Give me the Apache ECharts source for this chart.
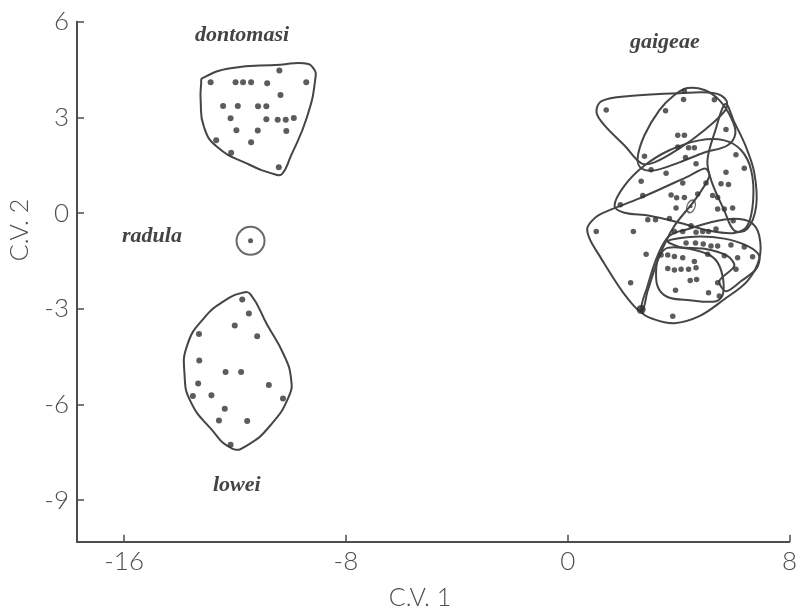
<!DOCTYPE html>
<html>
<head>
<meta charset="utf-8">
<script src="https://cdn.jsdelivr.net/npm/echarts@6/dist/echarts.min.js"></script>
<style>
html,body{margin:0;padding:0;background:#fff;}
#chart{width:800px;height:614px;}
</style>
</head>
<body>
<div id="chart"></div>
<script>
// ---------- data ----------
const xTicks = [-16, -8, 0, 8];
const yTicks = [-9, -6, -3, 0, 3, 6];

const dontomasiPts = [
  [-10.40, 4.47], [-12.88, 4.10], [-11.98, 4.10], [-11.71, 4.10], [-11.42, 4.10],
  [-10.84, 4.07], [-9.43, 4.10], [-10.36, 3.70], [-12.43, 3.36], [-11.90, 3.36],
  [-11.17, 3.35], [-10.87, 3.35], [-12.16, 2.97], [-10.87, 2.94], [-10.46, 2.93],
  [-10.17, 2.93], [-9.88, 2.98], [-11.95, 2.60], [-11.18, 2.59], [-10.15, 2.57],
  [-12.68, 2.28], [-11.42, 2.22], [-12.14, 1.89], [-10.42, 1.44]
];
const loweiPts = [
  [-11.74, -2.71], [-11.50, -3.15], [-12.01, -3.52], [-13.30, -3.79], [-11.20, -3.86],
  [-13.29, -4.62], [-12.34, -4.98], [-11.78, -4.98], [-13.33, -5.34], [-10.78, -5.39],
  [-13.52, -5.73], [-12.85, -5.71], [-10.27, -5.81], [-12.37, -6.13], [-12.58, -6.50],
  [-11.56, -6.52], [-12.16, -7.26]
];
const radulaPts = [[-11.44, -0.87]];
const gaigeaePts = [
  [1.39, 3.23], [4.21, 3.83], [4.18, 3.56], [5.29, 3.55], [3.53, 3.21], [5.71, 2.62],
  [3.97, 2.44], [4.21, 2.44], [3.97, 2.07], [4.36, 2.05], [4.57, 2.05], [2.77, 1.78],
  [4.25, 1.74], [6.07, 1.83], [4.63, 1.55], [3.01, 1.36], [3.55, 1.25], [6.37, 1.41],
  [5.71, 1.28], [2.65, 1.00], [4.15, 0.94], [4.99, 0.94], [5.53, 0.92], [5.80, 0.90],
  [2.71, 0.55], [3.73, 0.57], [3.93, 0.48], [4.21, 0.49], [4.69, 0.60], [5.23, 0.55],
  [5.41, 0.49], [1.90, 0.26], [3.91, 0.16], [5.41, 0.13], [5.65, 0.13],
  [5.95, 0.16], [2.89, -0.21], [3.17, -0.21], [3.67, -0.17], [5.97, -0.24], [1.03, -0.58],
  [2.37, -0.58], [3.85, -0.58], [4.15, -0.58], [4.45, -0.40], [4.63, -0.60], [4.87, -0.58],
  [5.08, -0.58], [5.35, -0.50], [4.27, -0.94], [4.61, -0.94], [4.89, -0.97], [5.17, -1.03],
  [5.41, -1.03], [5.89, -1.00], [6.37, -1.06], [2.83, -1.29], [3.37, -1.31], [3.61, -1.31],
  [3.85, -1.36], [4.15, -1.40], [5.05, -1.29], [5.65, -1.34], [6.13, -1.40], [6.67, -1.37],
  [4.57, -1.52], [3.61, -1.74], [3.85, -1.78], [4.09, -1.76], [4.36, -1.76], [4.63, -1.71],
  [6.07, -1.76], [4.42, -2.11], [4.65, -2.08], [2.27, -2.18], [5.41, -2.18], [3.89, -2.42],
  [5.08, -2.50], [5.47, -2.60], [3.79, -3.23]
];
const gaigeaeBigPts = [[2.65, -3.02]];
const gaigeaeSinglePop = [[4.45, 0.21]];

// hull outlines (data units)
const hullDontomasi = [
  [-13.18, 4.23], [-12.16, 4.54], [-10.36, 4.65], [-9.52, 4.70], [-9.17, 4.54], [-9.10, 4.23],
  [-9.40, 3.02], [-10.00, 1.76], [-10.30, 1.23], [-10.54, 1.21], [-11.56, 1.55],
  [-12.64, 2.07], [-13.12, 2.70], [-13.24, 3.54], [-13.22, 4.07]
];
const hullLowei = [
  [-11.74, -2.50], [-11.44, -2.55], [-10.84, -3.50], [-10.24, -4.44], [-9.98, -5.18],
  [-10.06, -5.75], [-10.72, -6.65], [-11.56, -7.28], [-12.10, -7.38], [-12.88, -6.75],
  [-13.60, -5.91], [-13.82, -5.07], [-13.72, -4.13], [-13.12, -3.29], [-12.40, -2.76]
];
const hullG1 = [
  [1.04, 3.16], [1.22, 3.51], [2.23, 3.67], [4.03, 3.76], [5.29, 3.76], [5.72, 3.54],
  [5.69, 3.23], [4.93, 2.60], [4.03, 2.03], [3.13, 1.59], [2.66, 1.56], [2.05, 2.12], [1.33, 2.75]
];
const hullG2 = [
  [2.52, 1.71], [2.77, 2.44], [3.31, 3.23], [3.85, 3.70], [4.32, 3.92], [4.93, 3.86],
  [5.47, 3.54], [5.90, 2.98], [6.05, 2.50], [5.76, 2.12], [4.93, 1.90], [4.03, 1.59],
  [3.13, 1.34], [2.66, 1.40]
];
const hullG3 = [
  [1.69, 0.23], [2.05, 0.86], [2.77, 1.49], [3.67, 1.97], [4.75, 2.28], [5.65, 2.28],
  [6.26, 1.97], [6.62, 1.34], [6.69, 0.39], [6.48, -0.40], [6.01, -0.62], [5.11, -0.55],
  [4.03, -0.30], [2.95, -0.08], [2.05, 0.01]
];
const hullG4 = [
  [0.72, -0.43], [1.15, -0.05], [2.59, 0.46], [4.39, 1.17], [4.96, 1.40], [5.11, 1.15],
  [4.57, 0.39], [3.85, -0.40], [3.31, -1.34], [2.88, -2.45], [2.66, -3.08], [2.05, -2.55],
  [1.15, -1.34], [0.79, -0.80]
];
const hullG5 = [
  [2.66, -3.08], [3.13, -3.33], [3.85, -3.45], [4.75, -3.23], [5.65, -2.70], [6.48, -2.13],
  [6.91, -1.44], [6.91, -0.71], [6.62, -0.30], [6.01, -0.18], [5.11, -0.30], [4.39, -0.49],
  [3.67, -0.71], [3.24, -1.34], [2.88, -2.29]
];
const hullG6 = [
  [3.31, -1.34], [3.60, -1.09], [4.39, -1.12], [5.22, -1.37], [5.54, -1.81], [5.61, -2.51],
  [5.36, -2.76], [4.39, -2.73], [3.60, -2.63], [3.24, -2.29], [3.20, -1.66]
];
const hullG7 = [
  [5.69, 3.42], [6.01, 2.85], [6.41, 2.12], [6.73, 1.27], [6.80, 0.23], [6.48, -0.49],
  [6.01, -0.55], [5.65, 0.08], [5.18, 1.02], [5.04, 1.65], [5.33, 2.60]
];
const hullG8 = [
  [3.60, -0.87], [4.57, -0.74], [5.65, -0.80], [6.48, -1.03], [6.91, -1.34], [6.80, -1.75],
  [6.26, -2.13], [5.72, -2.45], [5.47, -2.13], [6.01, -1.66], [5.76, -1.34], [4.93, -1.12],
  [4.03, -1.06]
];
const hulls = [hullDontomasi, hullLowei, hullG1, hullG2, hullG3, hullG4, hullG5, hullG6, hullG7, hullG8];
const hullSmooth = [0.5, 0.5, 0.35, 0.35, 0.35, 0.3, 0.35, 0.35, 0.35, 0.3];

const speciesLabels = ['dontomasi', 'radula', 'lowei', 'gaigeae'];

// ---------- chart ----------
const ink = '#333';
const axisInk = '#4d4d4d';
const tickFont = { fontFamily: 'Lato, "DejaVu Sans", sans-serif', fontWeight: 300, fontSize: 26, color: axisInk };
const labelFont = { fontFamily: '"Liberation Serif", "DejaVu Serif", serif', fontStyle: 'italic', fontWeight: 'bold', fontSize: 22, fill: '#444' };

const chart = echarts.init(document.getElementById('chart'), null, { renderer: 'canvas' });
chart.setOption({
  animation: false,
  backgroundColor: '#fff',
  grid: { left: 77, right: 10, top: 21.7, bottom: 72.3, containLabel: false },
  xAxis: {
    type: 'value', min: -17.7, max: 8,
    splitLine: { show: false },
    axisLine: { onZero: false, lineStyle: { color: axisInk, width: 2 } },
    axisTick: { inside: true, length: 7, customValues: xTicks, lineStyle: { color: axisInk, width: 1.5 } },
    axisLabel: Object.assign({ customValues: xTicks, margin: 7, formatter: v => String(v) }, tickFont)
  },
  yAxis: {
    type: 'value', min: -10.3, max: 6,
    splitLine: { show: false },
    axisLine: { onZero: false, lineStyle: { color: axisInk, width: 2 } },
    axisTick: { inside: true, length: 7, customValues: yTicks, lineStyle: { color: axisInk, width: 1.5 } },
    axisLabel: Object.assign({ customValues: yTicks, margin: 8, formatter: v => String(v) }, tickFont)
  },
  graphic: [
    { type: 'text', left: 195, top: 24, style: Object.assign({ text: speciesLabels[0] }, labelFont) },
    { type: 'text', left: 122, top: 225, style: Object.assign({ text: speciesLabels[1] }, labelFont) },
    { type: 'text', left: 213, top: 474, style: Object.assign({ text: speciesLabels[2] }, labelFont) },
    { type: 'text', left: 630, top: 31, style: Object.assign({ text: speciesLabels[3] }, labelFont) },
    { type: 'text', x: 420, y: 598, style: { text: 'C.V. 1', align: 'center', verticalAlign: 'middle', fontFamily: tickFont.fontFamily, fontWeight: 300, fontSize: 25, fill: axisInk } },
    { type: 'text', x: 20, y: 230, rotation: Math.PI / 2, style: { text: 'C.V. 2', align: 'center', verticalAlign: 'middle', fontFamily: tickFont.fontFamily, fontWeight: 300, fontSize: 25, fill: axisInk } }
  ],
  series: [
    {
      type: 'custom',
      coordinateSystem: 'cartesian2d',
      silent: true,
      clip: false,
      data: hulls.map((h, i) => [h[0][0], h[0][1], i]),
      renderItem: function (params, api) {
        const idx = api.value(2);
        const pts = hulls[idx].map(p => api.coord(p));
        return {
          type: 'polygon',
          shape: { points: pts, smooth: hullSmooth[idx] },
          style: { fill: 'none', stroke: '#454545', lineWidth: 2 }
        };
      }
    },
    { type: 'scatter', data: dontomasiPts, symbolSize: 6, itemStyle: { color: ink } },
    { type: 'scatter', data: loweiPts, symbolSize: 6, itemStyle: { color: ink } },
    { type: 'scatter', data: radulaPts, symbolSize: 5, itemStyle: { color: ink } },
    { type: 'scatter', data: radulaPts, symbolSize: 28, itemStyle: { color: 'rgba(0,0,0,0)', borderColor: '#454545', borderWidth: 2 } },
    { type: 'scatter', data: gaigeaePts, symbolSize: 5.5, itemStyle: { color: ink } },
    { type: 'scatter', data: gaigeaeBigPts, symbolSize: 9, itemStyle: { color: '#2a2a2a' } },
    { type: 'scatter', data: gaigeaeSinglePop, symbolSize: [8, 13], symbolRotate: -20, itemStyle: { color: 'rgba(0,0,0,0)', borderColor: '#454545', borderWidth: 1.5 } },
    { type: 'scatter', data: gaigeaeSinglePop, symbolSize: 3, itemStyle: { color: ink } }
  ]
});
</script>
</body>
</html>
